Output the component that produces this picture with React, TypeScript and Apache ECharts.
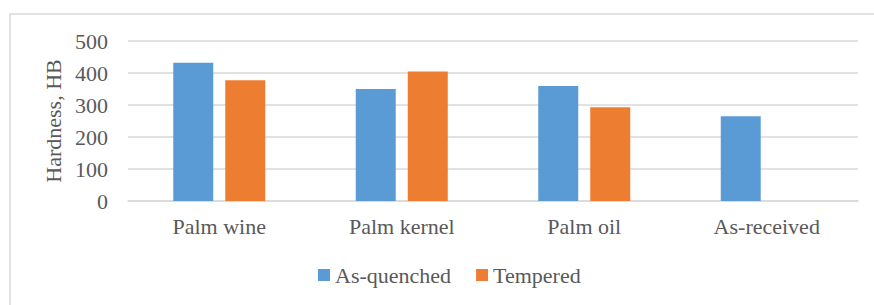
import React, { useEffect, useRef } from "react";
import * as echarts from "echarts";

const categories = ["Palm wine", "Palm kernel", "Palm oil", "As-received"];
const asQuenched = [432, 350, 359, 265];
const tempered: (number | null)[] = [377, 405, 293, null];
const yTicks = { min: 0, max: 500, interval: 100 };
const axisTitle = "Hardness, HB";
const seriesNames = ["As-quenched", "Tempered"];

const FONT = "Liberation Serif";
const TEXT = "#595959";
const GRID = "#d9d9d9";
const FS = 22;

export default function App() {
  const ref = useRef<HTMLDivElement>(null);
  useEffect(() => {
    if (!ref.current) return;
    const chart = echarts.init(ref.current, null, { renderer: "svg" });
    chart.setOption({
      animation: false,
      backgroundColor: "#ffffff",
      graphic: [
        {
          type: "rect",
          shape: { x: 10, y: 14, width: 900, height: 400 },
          style: { fill: "none", stroke: GRID, lineWidth: 1.5 },
          silent: true,
          z: -1,
        },
      ],
      grid: { left: 128, right: 16, top: 41, height: 160 },
      legend: {
        bottom: 14,
        left: 313,
        itemWidth: 12,
        itemHeight: 12,
        itemGap: 25,
        icon: "rect",
        textStyle: { fontFamily: FONT, fontSize: FS, color: TEXT, padding: [0, 0, 0, 0] },
        data: seriesNames,
      },
      xAxis: {
        type: "category",
        data: categories,
        axisLine: { lineStyle: { color: GRID, width: 1.5 } },
        axisTick: { show: false },
        axisLabel: { fontFamily: FONT, fontSize: FS, color: TEXT, margin: 14 },
      },
      yAxis: {
        type: "value",
        min: yTicks.min,
        max: yTicks.max,
        interval: yTicks.interval,
        name: axisTitle,
        nameLocation: "middle",
        nameGap: 64,
        nameTextStyle: { fontFamily: FONT, fontSize: FS, color: TEXT },
        axisLine: { show: false },
        axisTick: { show: false },
        axisLabel: { fontFamily: FONT, fontSize: FS, color: TEXT, margin: 20 },
        splitLine: { lineStyle: { color: GRID, width: 1.5 } },
      },
      series: [
        {
          name: seriesNames[0],
          type: "bar",
          data: asQuenched,
          barWidth: 40,
          barGap: "30%",
          itemStyle: { color: "#5b9bd5" },
        },
        {
          name: seriesNames[1],
          type: "bar",
          data: tempered,
          barWidth: 40,
          itemStyle: { color: "#ed7d31" },
        },
      ],
    });
    return () => chart.dispose();
  }, []);
  return (
    <div
      ref={ref}
      style={{ position: "fixed", left: 0, top: 0, width: 874, height: 305 }}
    />
  );
}
